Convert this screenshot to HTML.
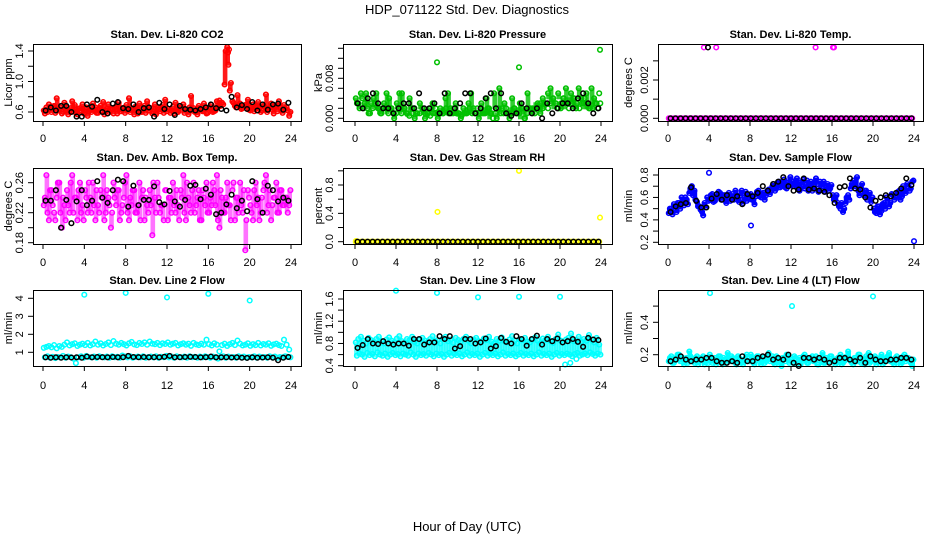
<!DOCTYPE html>
<html><head><meta charset="utf-8"><style>
html,body{margin:0;padding:0;background:#fff;}
svg{display:block;font-family:"Liberation Sans",Arial,sans-serif;}
</style></head><body>
<svg id="chart" width="936" height="540" viewBox="0 0 936 540" xmlns="http://www.w3.org/2000/svg">
<text x="467" y="14" font-size="13" text-anchor="middle">HDP_071122  Std. Dev. Diagnostics</text>
<text x="467" y="531" font-size="13" text-anchor="middle">Hour of Day (UTC)</text>
</svg>
<script>
const hoursTicks = [0,4,8,12,16,20,24];
const co2A = [0.62,0.66,0.70,0.60,0.68,0.78,0.64,0.58,0.72,0.66,0.61,0.74,0.69,0.57,0.65,0.70,0.60,0.55,0.63,0.71,0.66,0.59,0.68,0.73,0.62,0.70,0.64,0.58,0.67,0.72,0.61,0.65,0.69,0.78,0.63,0.57,0.66,0.71,0.60,0.68,0.74,0.62,0.58,0.70,0.65,0.61,0.69,0.76,0.64,0.59,0.67,0.72,0.60,0.66,0.70,0.63,0.57,0.81,0.65,0.60,0.68,0.62,0.71,0.58,0.66,0.69,0.61,0.74,0.75,0.72,0.96,1.45,0.88,0.74,0.68,0.82,0.71,0.65,0.69,0.76,0.62,0.70,0.66,0.73,0.60,0.68,0.83,0.64,0.71,0.58,0.67,0.74,0.62,0.69,0.66,0.55];
const co2B = [0.58,0.60,0.64,0.67,0.59,0.62,0.66,0.60,0.63,0.57,0.65,0.61,0.59,0.64,0.62,0.58,0.66,0.61,0.60,0.63,0.59,0.65,0.62,0.57,0.64,0.60,0.63,0.66,0.58,0.61,0.65,0.59,0.62,0.60,0.64,0.67,0.58,0.61,0.63,0.59,0.62,0.65,0.60,0.57,0.63,0.66,0.59,0.61,0.64,0.62,0.58,0.60,0.65,0.63,0.59,0.61,0.66,0.62,0.60,0.57,0.64,0.61,0.63,0.59,0.65,0.60,0.62,0.66,0.68,0.70,1.40,1.22,0.98,0.72,0.66,0.69,0.64,0.67,0.70,0.63,0.66,0.61,0.68,0.64,0.62,0.67,0.60,0.65,0.63,0.68,0.61,0.66,0.59,0.64,0.62,0.60];
const co2K = [0.62,0.66,0.62,0.68,0.68,0.60,0.54,0.54,0.70,0.67,0.76,0.60,0.58,0.71,0.73,0.65,0.64,0.70,0.60,0.65,0.66,0.54,0.72,0.64,0.70,0.56,0.68,0.64,0.63,0.62,0.64,0.66,0.70,0.65,0.64,0.62,0.80,0.66,0.69,0.64,0.73,0.62,0.70,0.63,0.70,0.71,0.63,0.72];
const co2OutX = [17.9,18.0];
const co2OutY = [1.38,1.42];
// pressure in units of 0.001 kPa
const presA = [4,3,5,2,5,1,3,4,5,2,1,3,5,4,2,0,3,5,5,2,1,4,2,0,1,3,2,0,1,2,3,1,0,2,1,4,5,2,1,3,1,0,2,1,3,5,2,1,0,3,1,4,2,1,5,0,6,2,3,1,0,4,2,1,3,2,0,5,2,1,2,3,1,4,3,5,6,4,3,5,2,4,6,3,5,4,2,6,4,3,5,2,6,4,3,5];
const presB = [3,2,4,3,2,1,2,3,2,1,2,2,1,2,1,1,2,1,2,1,0.5,1,2,1,1,2,1,1,0.5,1,2,1,1,1,2,1,1,2,1,1,0.5,1,1,2,1,1,2,1,1,1,2,1,0,1,2,1,1,2,1,1,2,1,1,2,0,1,2,2,1,2,3,2,3,2,3,4,3,2,3,4,3,2,3,4,3,2,3,4,3,2,2,3,2,3];
const presK = [3,2,4,5,3,2,2,1,2,3,3,2,5,2,2,3,1,5,1,2,3,5,5,1,2,4,5,2,5,1,0.5,1,3,2,1,2,0,3,1,2,3,3,2,4,5,3,1,2];
const presOutX = [8.0,16.0,23.9];
const presOutY = [11.2,10.2,13.7];
const tempA = [0,0,0,0,0,0,0,0,0,0,0,0,0,0,0,0,0,0,0,0,0,0,0,0,0,0,0,0,0,0,0,0,0,0,0,0,0,0,0,0,0,0,0,0,0,0,0,0,0,0,0,0,0,0,0,0,0,0,0,0,0,0,0,0,0,0,0,0,0,0,0,0,0,0,0,0,0,0,0,0,0,0,0,0,0,0,0,0,0,0,0,0,0,0,0,0];
const tempK = [0,0,0,0,0,0,0,0,0,0,0,0,0,0,0,0,0,0,0,0,0,0,0,0,0,0,0,0,0,0,0,0,0,0,0,0,0,0,0,0,0,0,0,0,0,0,0,0,0];
const tempOutX = [3.5,4.7,14.4,16.1,16.2];
const tempOutY = [0.0037,0.0037,0.0037,0.0037,0.0037];
const tempKOutX = [3.9];
const tempKOutY = [0.0037];
const ambA = [0.23,0.27,0.21,0.25,0.22,0.24,0.26,0.20,0.23,0.25,0.22,0.27,0.24,0.21,0.26,0.23,0.25,0.22,0.24,0.26,0.21,0.23,0.25,0.27,0.22,0.24,0.20,0.26,0.23,0.25,0.22,0.24,0.27,0.21,0.23,0.25,0.22,0.26,0.24,0.21,0.23,0.25,0.19,0.24,0.26,0.22,0.23,0.25,0.21,0.24,0.26,0.22,0.23,0.25,0.27,0.21,0.24,0.22,0.26,0.23,0.25,0.21,0.24,0.26,0.22,0.23,0.25,0.27,0.20,0.24,0.22,0.26,0.23,0.25,0.21,0.24,0.26,0.22,0.17,0.25,0.23,0.21,0.26,0.24,0.22,0.25,0.27,0.23,0.21,0.24,0.26,0.22,0.25,0.23,0.24,0.23];
const ambB = [0.24,0.22,0.25,0.23,0.21,0.26,0.22,0.24,0.21,0.23,0.26,0.22,0.24,0.25,0.22,0.21,0.24,0.26,0.22,0.23,0.25,0.22,0.24,0.21,0.25,0.23,0.22,0.24,0.25,0.21,0.23,0.26,0.22,0.24,0.25,0.22,0.23,0.21,0.25,0.24,0.22,0.23,0.26,0.22,0.24,0.23,0.21,0.25,0.24,0.22,0.23,0.25,0.21,0.24,0.22,0.26,0.23,0.25,0.22,0.24,0.21,0.25,0.23,0.22,0.24,0.26,0.23,0.21,0.25,0.22,0.24,0.23,0.21,0.26,0.24,0.22,0.23,0.25,0.21,0.24,0.22,0.25,0.23,0.21,0.24,0.26,0.22,0.25,0.23,0.24,0.22,0.25,0.23,0.24,0.22,0.25];
const ambK = [0.236,0.236,0.25,0.20,0.237,0.206,0.235,0.25,0.23,0.236,0.262,0.24,0.233,0.25,0.264,0.262,0.228,0.256,0.230,0.237,0.237,0.255,0.234,0.231,0.249,0.235,0.228,0.237,0.256,0.257,0.238,0.252,0.244,0.218,0.22,0.231,0.244,0.226,0.236,0.222,0.262,0.238,0.22,0.256,0.25,0.235,0.24,0.236];
const rhA = tempA;
const rhK = tempK;
const rhOutX = [0.1,8.05,16.0,23.9];
const rhOutY = [0.01,0.42,1.0,0.34];
const flowA = [0.46,0.50,0.54,0.47,0.55,0.60,0.53,0.58,0.64,0.70,0.66,0.56,0.52,0.47,0.55,0.60,0.58,0.63,0.57,0.61,0.64,0.58,0.62,0.60,0.57,0.63,0.66,0.59,0.62,0.55,0.65,0.60,0.63,0.58,0.61,0.66,0.60,0.64,0.62,0.67,0.66,0.72,0.68,0.74,0.70,0.76,0.68,0.72,0.74,0.70,0.77,0.66,0.72,0.68,0.75,0.70,0.66,0.72,0.68,0.74,0.70,0.65,0.72,0.68,0.62,0.58,0.55,0.50,0.47,0.55,0.62,0.68,0.75,0.70,0.66,0.68,0.62,0.66,0.60,0.56,0.50,0.46,0.52,0.48,0.55,0.60,0.52,0.63,0.58,0.62,0.66,0.61,0.68,0.72,0.66,0.74];
const flowB = [0.50,0.45,0.52,0.55,0.50,0.55,0.60,0.54,0.68,0.62,0.58,0.52,0.49,0.44,0.51,0.57,0.62,0.56,0.60,0.65,0.58,0.62,0.55,0.64,0.61,0.58,0.62,0.56,0.66,0.60,0.57,0.62,0.58,0.54,0.65,0.61,0.63,0.58,0.66,0.63,0.70,0.66,0.73,0.69,0.74,0.69,0.73,0.78,0.70,0.75,0.68,0.73,0.76,0.71,0.66,0.74,0.70,0.77,0.65,0.71,0.74,0.69,0.66,0.71,0.58,0.62,0.52,0.55,0.50,0.60,0.58,0.72,0.70,0.78,0.62,0.72,0.66,0.58,0.64,0.60,0.47,0.52,0.45,0.54,0.50,0.57,0.55,0.62,0.60,0.65,0.58,0.70,0.64,0.70,0.68,0.75];
const flowK = [0.47,0.52,0.54,0.55,0.69,0.57,0.51,0.51,0.59,0.63,0.58,0.62,0.58,0.61,0.54,0.63,0.61,0.64,0.70,0.66,0.72,0.74,0.78,0.70,0.66,0.67,0.77,0.67,0.68,0.66,0.65,0.62,0.55,0.69,0.70,0.77,0.68,0.67,0.60,0.51,0.57,0.60,0.62,0.61,0.64,0.68,0.77,0.71];
const flowOutX = [4.0,8.1,24.0];
const flowOutY = [0.82,0.35,0.21];
const l2A = [1.25,1.30,1.35,1.28,1.40,1.22,1.35,1.30,1.42,1.55,1.38,1.45,1.50,1.35,1.42,1.48,1.40,1.52,1.38,1.45,1.60,1.42,1.50,1.38,1.46,1.55,1.40,1.62,1.48,1.42,1.52,1.45,1.38,1.50,1.58,1.44,1.40,1.52,1.46,1.55,1.42,1.60,1.48,1.45,1.52,1.40,1.50,1.46,1.55,1.42,1.48,1.52,1.38,1.45,1.50,1.42,1.48,1.36,1.52,1.44,1.40,1.48,1.42,1.70,1.45,1.38,1.50,1.42,1.05,1.40,1.48,1.35,1.45,1.52,1.40,1.65,1.48,1.38,1.42,1.50,1.36,1.45,1.40,1.52,1.38,1.46,1.42,1.50,1.36,1.44,1.48,1.40,1.35,1.70,1.42,1.15];
const l2B = [0.72,0.78,0.70,0.75,0.68,0.74,0.72,0.80,0.70,0.76,0.73,0.65,0.40,0.72,0.78,0.70,0.80,0.74,0.72,0.76,0.70,0.78,0.74,0.72,0.76,0.70,0.78,0.73,0.75,0.70,0.82,0.76,0.72,0.78,0.70,0.74,0.76,0.72,0.78,0.70,0.74,0.76,0.72,0.78,0.70,0.75,0.73,0.80,0.72,0.76,0.70,0.78,0.74,0.72,0.76,0.70,0.78,0.73,0.75,0.70,0.76,0.72,0.78,0.74,0.70,0.76,0.72,0.65,0.74,0.78,0.70,0.76,0.72,0.74,0.70,0.78,0.72,0.76,0.70,0.74,0.72,0.78,0.70,0.76,0.72,0.74,0.70,0.78,0.72,0.76,0.70,0.74,0.72,0.78,0.75,0.72];
const l2K = [0.72,0.70,0.72,0.70,0.72,0.71,0.72,0.70,0.76,0.72,0.74,0.73,0.72,0.74,0.72,0.73,0.80,0.74,0.73,0.74,0.72,0.73,0.72,0.75,0.80,0.72,0.73,0.74,0.75,0.74,0.72,0.73,0.76,0.72,0.72,0.73,0.71,0.72,0.70,0.69,0.72,0.70,0.71,0.72,0.70,0.56,0.70,0.74];
const l2OutX = [4.0,8.0,12.0,16.0,20.0];
const l2OutY = [4.2,4.3,4.05,4.25,3.88];
const l3A = [0.82,0.88,0.92,0.85,0.80,0.90,0.86,0.83,0.88,0.92,0.84,0.80,0.87,0.91,0.85,0.82,0.89,0.93,0.84,0.81,0.88,0.86,0.92,0.83,0.80,0.87,0.90,0.85,0.82,0.88,0.93,0.84,0.86,0.80,0.89,0.92,0.84,0.87,0.81,0.90,0.86,0.83,0.88,0.92,0.85,0.80,0.87,0.90,0.84,0.82,0.89,0.86,0.92,0.83,0.80,0.88,0.85,0.91,0.84,0.82,0.87,0.93,0.85,0.80,0.88,0.86,0.90,0.83,0.82,0.87,0.91,0.85,0.80,0.89,0.86,0.92,0.84,0.81,0.88,0.96,0.85,0.82,0.87,0.90,0.98,0.84,0.86,0.92,0.83,0.88,0.85,0.95,0.87,0.82,0.90,0.78];
const l3B = [0.58,0.62,0.60,0.56,0.63,0.59,0.61,0.57,0.64,0.60,0.58,0.62,0.56,0.60,0.63,0.59,0.61,0.57,0.62,0.60,0.58,0.64,0.60,0.56,0.62,0.59,0.61,0.58,0.63,0.60,0.57,0.62,0.59,0.61,0.56,0.60,0.63,0.58,0.61,0.59,0.62,0.57,0.60,0.64,0.58,0.61,0.59,0.62,0.56,0.60,0.63,0.58,0.61,0.59,0.62,0.57,0.60,0.64,0.58,0.61,0.59,0.62,0.57,0.60,0.63,0.58,0.61,0.59,0.62,0.57,0.60,0.64,0.58,0.61,0.59,0.62,0.56,0.60,0.63,0.58,0.61,0.59,0.62,0.60,0.57,0.61,0.63,0.58,0.60,0.62,0.59,0.64,0.61,0.58,0.62,0.60];
const l3K = [0.72,0.77,0.88,0.80,0.79,0.84,0.80,0.78,0.80,0.80,0.76,0.88,0.88,0.78,0.82,0.82,0.93,0.88,0.93,0.71,0.75,0.88,0.88,0.80,0.82,0.89,0.71,0.75,0.90,0.83,0.80,0.93,0.88,0.76,0.88,0.94,0.78,0.88,0.84,0.89,0.82,0.84,0.88,0.83,0.74,0.90,0.87,0.86];
const l3OutX = [4.0,8.0,12.0,16.0,20.0,20.5,21.0,21.6];
const l3OutY = [1.75,1.71,1.63,1.64,1.64,0.42,0.45,0.52];
const l4A = [0.16,0.19,0.15,0.18,0.20,0.16,0.14,0.18,0.22,0.17,0.15,0.19,0.16,0.18,0.14,0.17,0.20,0.15,0.18,0.16,0.19,0.14,0.17,0.21,0.16,0.18,0.15,0.19,0.17,0.14,0.18,0.16,0.20,0.15,0.17,0.19,0.14,0.18,0.16,0.21,0.17,0.15,0.19,0.16,0.13,0.18,0.20,0.15,0.17,0.19,0.14,0.18,0.16,0.20,0.15,0.17,0.19,0.16,0.14,0.18,0.21,0.15,0.17,0.19,0.16,0.14,0.18,0.20,0.15,0.17,0.22,0.16,0.14,0.18,0.20,0.15,0.17,0.19,0.21,0.16,0.18,0.14,0.17,0.20,0.15,0.18,0.21,0.16,0.14,0.19,0.17,0.15,0.20,0.18,0.16,0.13];
const l4B = [0.18,0.15,0.17,0.20,0.16,0.18,0.17,0.15,0.19,0.16,0.18,0.14,0.17,0.19,0.16,0.15,0.18,0.17,0.14,0.19,0.16,0.18,0.15,0.17,0.19,0.16,0.14,0.18,0.15,0.17,0.20,0.16,0.18,0.14,0.19,0.16,0.17,0.15,0.18,0.16,0.19,0.14,0.17,0.15,0.18,0.16,0.19,0.17,0.15,0.18,0.16,0.14,0.19,0.17,0.15,0.18,0.16,0.19,0.14,0.17,0.15,0.18,0.16,0.19,0.17,0.15,0.18,0.14,0.16,0.19,0.17,0.15,0.18,0.16,0.20,0.17,0.14,0.18,0.15,0.17,0.19,0.16,0.18,0.14,0.17,0.19,0.16,0.15,0.18,0.17,0.14,0.19,0.16,0.18,0.15,0.17];
const l4K = [0.16,0.17,0.19,0.17,0.16,0.17,0.17,0.18,0.18,0.16,0.15,0.15,0.16,0.15,0.19,0.16,0.16,0.18,0.19,0.20,0.17,0.18,0.17,0.20,0.15,0.13,0.18,0.18,0.17,0.18,0.17,0.15,0.16,0.18,0.18,0.17,0.16,0.18,0.15,0.19,0.17,0.16,0.16,0.17,0.17,0.18,0.18,0.17];
const l4OutX = [4.1,12.1,20.0];
const l4OutY = [0.58,0.50,0.56];

const presScale = 0.001;
const svg = document.getElementById('chart');
const NS = 'http://www.w3.org/2000/svg';
function mk(tag, attrs, parent){
  const e = document.createElementNS(NS, tag);
  for (const k in attrs) e.setAttribute(k, attrs[k]);
  (parent||svg).appendChild(e);
  return e;
}
const cols = [{l:33,w:268,x0:43,x24:291,yt:8},{l:343,w:269,x0:355,x24:601,yt:318},{l:658,w:265,x0:668,x24:914,yt:628}];
const rows = [{t:44,b:121,title:34,lab:138},{t:168,b:244,title:157,lab:262},{t:290,b:366,title:280,lab:385}];
const panels = [
 {name:'co2',title:'Stan. Dev. Li-820 CO2',yl:'Licor ppm',c:0,r:0,color:'#ff0000',op:0.9,v1:0.6,p1:112,v2:1.4,p2:51,ticks:[0.6,0.8,1.0,1.2,1.4],labels:[['0.6',0.6],['1.0',1.0],['1.4',1.4]],A:co2A,B:co2B,K:co2K,ox:co2OutX,oy:co2OutY,s:1},
 {name:'pressure',title:'Stan. Dev. Li-820 Pressure',yl:'kPa',c:1,r:0,color:'#00c000',op:0.8,v1:0,p1:118.3,v2:0.014,p2:48.3,ticks:[0,0.002,0.004,0.006,0.008,0.010,0.012,0.014],labels:[['0.000',0],['0.008',0.008]],A:presA,B:presB,K:presK,ox:presOutX,oy:presOutY,s:presScale},
 {name:'temp',title:'Stan. Dev. Li-820 Temp.',yl:'degrees C',c:2,r:0,color:'#ff00ff',v1:0,p1:118.3,v2:0.002,p2:80,ticks:[0,0.001,0.002,0.003],labels:[['0.000',0],['0.002',0.002]],A:tempA,B:null,K:tempK,ox:tempOutX,oy:tempOutY,kx:tempKOutX,ky:tempKOutY,s:1},
 {name:'amb-temp',title:'Stan. Dev. Amb. Box Temp.',yl:'degrees C',c:0,r:1,color:'#ff00ff',op:0.55,v1:0.18,p1:242.7,v2:0.26,p2:182.7,ticks:[0.18,0.20,0.22,0.24,0.26],labels:[['0.18',0.18],['0.22',0.22],['0.26',0.26]],A:ambA,B:ambB,K:ambK,ox:[],oy:[],s:1},
 {name:'rh',title:'Stan. Dev. Gas Stream RH',yl:'percent',c:1,r:1,color:'#ffff00',v1:0,p1:241.7,v2:0.8,p2:185,ticks:[0,0.2,0.4,0.6,0.8,1.0],labels:[['0.0',0],['0.4',0.4],['0.8',0.8]],A:rhA,B:null,K:rhK,ox:rhOutX,oy:rhOutY,s:1},
 {name:'sample-flow',title:'Stan. Dev. Sample Flow',yl:'ml/min',c:2,r:1,color:'#0000ff',op:1,v1:0.2,p1:242.3,v2:0.8,p2:175,ticks:[0.2,0.3,0.4,0.5,0.6,0.7,0.8],labels:[['0.2',0.2],['0.4',0.4],['0.6',0.6],['0.8',0.8]],A:flowA,B:flowB,K:flowK,ox:flowOutX,oy:flowOutY,s:1},
 {name:'line2-flow',title:'Stan. Dev. Line 2 Flow',yl:'ml/min',c:0,r:2,color:'#00ffff',op:0,v1:1,p1:352.3,v2:4,p2:298.3,ticks:[1,2,3,4],labels:[['1',1],['2',2],['3',3],['4',4]],A:l2A,B:l2B,K:l2K,ox:l2OutX,oy:l2OutY,s:1},
 {name:'line3-flow',title:'Stan. Dev. Line 3 Flow',yl:'ml/min',c:1,r:2,color:'#00ffff',op:0.6,v1:0.4,p1:365.7,v2:1.6,p2:299,ticks:[0.4,0.6,0.8,1.0,1.2,1.4,1.6],labels:[['0.4',0.4],['0.8',0.8],['1.2',1.2],['1.6',1.6]],A:l3A,B:l3B,K:l3K,ox:l3OutX,oy:l3OutY,s:1},
 {name:'line4-flow',title:'Stan. Dev. Line 4 (LT) Flow',yl:'ml/min',c:2,r:2,color:'#00ffff',op:1,v1:0.2,p1:354.7,v2:0.4,p2:322.3,ticks:[0.2,0.3,0.4,0.5],labels:[['0.2',0.2],['0.4',0.4]],A:l4A,B:l4B,K:l4K,ox:l4OutX,oy:l4OutY,s:1}
];
function dot(g, x, y, color, nm){
  const c = mk('circle',{cx:x.toFixed(1),cy:y.toFixed(1),r:2.3,fill:'none',stroke:color,'stroke-width':1.5},g);
  
  
}
panels.forEach(p=>{
  const col = cols[p.c], row = rows[p.r];
  const g = mk('g',{});
  
  
  const xs = h => col.x0 + (col.x24-col.x0)*h/24;
  const ys = v => p.p1 + (v - p.v1)*(p.p2-p.p1)/(p.v2-p.v1);
  const cx = col.l + col.w/2;
  const t = mk('text',{x:cx,y:row.title+4,'font-size':11,'font-weight':'bold','text-anchor':'middle'},g);
  t.textContent = p.title;
  
  
  const n = p.A.length;
  // dense range fill between paired samples
  if (p.B && p.op > 0) {
    const step = (col.x24-col.x0)/n;
    p.A.forEach((v,i)=>{
      const a = ys(v*p.s), b = ys(p.B[i]*p.s);
      const r = mk('rect',{x:(xs((i+0.5)*24/n)-step/2-1).toFixed(1),y:(Math.min(a,b)-1).toFixed(1),width:(step+2).toFixed(1),height:(Math.abs(a-b)+2).toFixed(1),fill:p.color,opacity:p.op},g);
      
      
    });
  }
  p.A.forEach((v,i)=>dot(g, xs((i+0.3)*24/n), ys(v*p.s), p.color, p.name+'-point'));
  if (p.B) p.B.forEach((v,i)=>dot(g, xs((i+0.75)*24/p.B.length), ys(v*p.s), p.color, p.name+'-point'));
  p.ox.forEach((x,i)=>dot(g, xs(x), ys(p.oy[i]*p.s), p.color, p.name+'-outlier'));
  p.K.forEach((v,i)=>dot(g, xs((i+0.5)*24/p.K.length), ys(v*p.s), '#000', p.name+'-hourly-point'));
  if (p.kx) p.kx.forEach((x,i)=>dot(g, xs(x), ys(p.ky[i]), '#000', p.name+'-hourly-outlier'));
  const box = mk('rect',{x:col.l+0.5,y:row.t+0.5,width:col.w,height:row.b-row.t,fill:'none',stroke:'#000','stroke-width':1},g);
  
  
  const xa = mk('g',{},g);
  
  
  mk('line',{x1:xs(0),x2:xs(24),y1:row.b+0.5,y2:row.b+0.5,stroke:'#000'},xa);
  hoursTicks.forEach(h=>{
    mk('line',{x1:xs(h),x2:xs(h),y1:row.b,y2:row.b+5,stroke:'#000'},xa);
    const tl = mk('text',{x:xs(h),y:row.lab+4,'font-size':11,'text-anchor':'middle'},xa);
    tl.textContent = h;
    
    
  });
  const ya = mk('g',{},g);
  
  
  const tk = p.ticks;
  mk('line',{x1:col.l+0.5,x2:col.l+0.5,y1:ys(tk[0]),y2:ys(tk[tk.length-1]),stroke:'#000'},ya);
  tk.forEach(v=>mk('line',{x1:col.l-5,x2:col.l,y1:ys(v),y2:ys(v),stroke:'#000'},ya));
  p.labels.forEach(([s,v])=>{
    const lx = col.l-10, ly = ys(v);
    const tl = mk('text',{x:lx,y:ly,'font-size':11,'text-anchor':'middle',transform:`rotate(-90 ${lx} ${ly})`},ya);
    tl.textContent = s;
    
    
  });
  const my = (row.t+row.b)/2, tx = col.yt+4;
  const yt = mk('text',{x:tx,y:my,'font-size':11,'text-anchor':'middle',transform:`rotate(-90 ${tx} ${my})`},g);
  yt.textContent = p.yl;
  
  
});
</script>
</body></html>
